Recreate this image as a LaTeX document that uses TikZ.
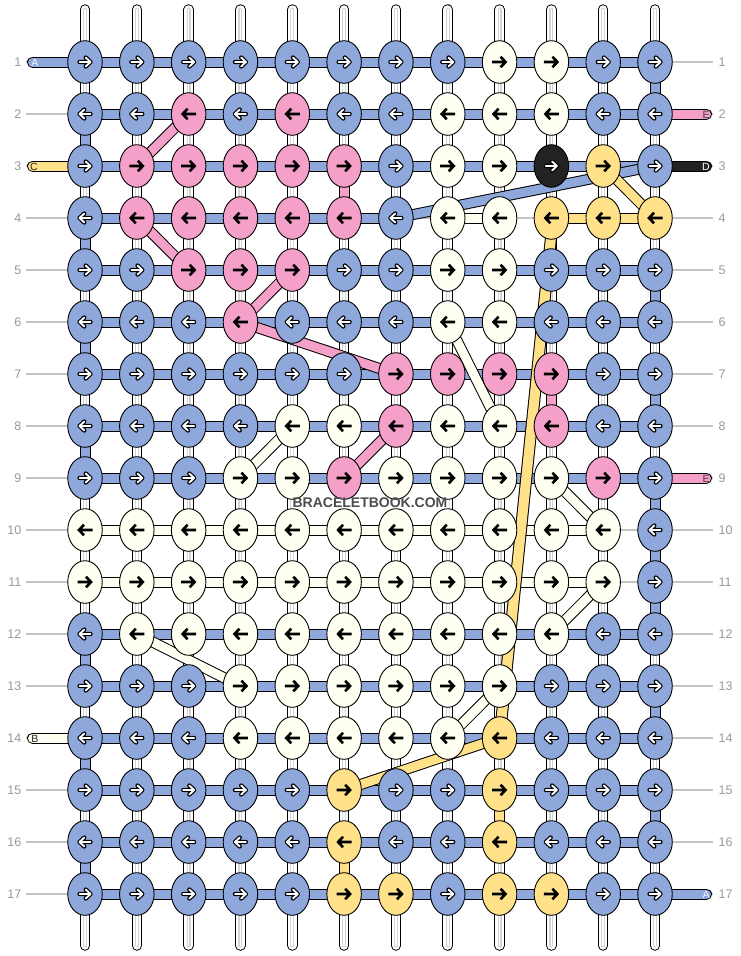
\documentclass[tikz,border=0pt]{standalone}
\usepackage{fontspec}
\setmainfont{Liberation Sans}
\usetikzlibrary{shapes.geometric}
\definecolor{cb}{HTML}{8FA8DC}
\definecolor{cp}{HTML}{F5A0C8}
\definecolor{cw}{HTML}{FFFFF2}
\definecolor{ck}{HTML}{222222}
\definecolor{cy}{HTML}{FFE18A}
\definecolor{cg}{HTML}{D4D4D4}
\definecolor{lab}{HTML}{999999}
\definecolor{labline}{HTML}{C4C4C4}
\definecolor{wmc}{HTML}{4D4D4D}
\tikzset{
  conn/.style={draw=black, line width=1pt, double=#1, double distance=9pt, line cap=butt},
  knot/.style={ellipse, minimum width=34.5pt, minimum height=42.6pt, inner sep=0pt, draw=black, line width=0.9pt},
  rownum/.style={font=\fontsize{12.5}{14}\selectfont, text=lab, inner sep=0pt},
  endlab/.style={font=\fontsize{10.5}{12}\selectfont, inner sep=0pt},
  wmark/.style={font=\bfseries\fontsize{14}{16}\selectfont, inner sep=0pt},
}
\newcommand\warrow{%
  \draw[line width=4.3pt, line cap=round, line join=round] (-5.5,0) -- (5,0) (0.7,-4.5) -- (5.5,0) -- (0.7,4.5);
  \draw[white, line width=1.9pt, line cap=round, line join=round] (-5.5,0) -- (5,0) (0.7,-4.5) -- (5.5,0) -- (0.7,4.5);}
\newcommand\barrow{%
  \draw[line width=2.6pt, line join=miter] (-7.5,0) -- (5.5,0) (1,-5.3) -- (6,0) -- (1,5.3);}
\def\letb{b}\def\letk{k}
\newcommand\drawknot[3]{%
  \node[knot, fill=c#3] (n-#1-#2) at (p-#1-#2) {};
  \pgfmathsetmacro\dirx{ifthenelse(mod(#1,2)==1,1,-1)}%
  \begin{scope}[shift={(n-#1-#2.center)}, xscale=\dirx]
    \edef\tmpk{#3}%
    \ifx\tmpk\letb \warrow \else \ifx\tmpk\letk \warrow \else \barrow \fi\fi
  \end{scope}}
\newcommand\diag[5]{%
  \draw[conn=c#1] (p-#2-#3) -- (p-#4-#5);}
\def\knotdata{%
 1/{b,b,b,b,b,b,b,b,w,w,b,b},
 2/{b,b,p,b,p,b,b,w,w,w,b,b},
 3/{b,p,p,p,p,p,b,w,w,k,y,b},
 4/{b,p,p,p,p,p,b,w,w,y,y,y},
 5/{b,b,p,p,p,b,b,w,w,b,b,b},
 6/{b,b,b,p,b,b,b,w,w,b,b,b},
 7/{b,b,b,b,b,b,p,p,p,p,b,b},
 8/{b,b,b,b,w,w,p,w,w,p,b,b},
 9/{b,b,b,w,w,p,w,w,w,w,p,b},
 10/{w,w,w,w,w,w,w,w,w,w,w,b},
 11/{w,w,w,w,w,w,w,w,w,w,w,b},
 12/{b,w,w,w,w,w,w,w,w,w,b,b},
 13/{b,b,b,w,w,w,w,w,w,b,b,b},
 14/{b,b,b,w,w,w,w,w,y,b,b,b},
 15/{b,b,b,b,b,y,b,b,y,b,b,b},
 16/{b,b,b,b,b,y,b,b,y,b,b,b},
 17/{b,b,b,b,b,y,y,b,y,y,b,b}}
\begin{document}
\begin{tikzpicture}[x=1pt,y=-1pt]
\useasboundingbox[fill=white] (0,0) rectangle (740,956);
% coordinates
\foreach \r in {1,...,17}{
  \foreach \c in {1,...,12}{
    \coordinate (p-\r-\c) at ({85+(\c-1)*51.82},{62+(\r-1)*52});
  }
  \coordinate (l-\r) at (26,{62+(\r-1)*52});
  \coordinate (r-\r) at (713,{62+(\r-1)*52});
}
\foreach \c in {1,...,12}{
  \coordinate (t-\c) at ({85+(\c-1)*51.82},9.5);
  \coordinate (b-\c) at ({85+(\c-1)*51.82},945.5);
}
\coordinate (ys) at (553,218);
% row guide lines
\foreach \r in {1,...,17} \draw[labline, line width=1.1pt] (l-\r) -- (r-\r);
% vertical strands
\foreach \c in {1,...,12}{
  \draw[line width=10.5pt, line cap=round] (t-\c) -- (b-\c);
  \draw[white, line width=8.5pt, line cap=round] (t-\c) -- (b-\c);
  \draw[cg, line width=4pt, line cap=round] (t-\c) -- (b-\c);
  \draw[white, line width=1.6pt, line cap=round] (t-\c) -- (b-\c);
}
% white ground behind the watermark
\fill[white] (291,497.5) rectangle (449,509);
% horizontal connectors
\foreach \r in {1,2,3,5,6,7,8,9,12,13,14,15,16,17}{
  \foreach \c [evaluate=\c as \d using int(\c+1)] in {1,...,11}
    \draw[conn=cb] (p-\r-\c) -- (p-\r-\d);
}
\foreach \c/\d in {1/2,2/3,3/4,4/5,5/6,6/7} \draw[conn=cb] (p-4-\c) -- (p-4-\d);
\draw[conn=cw] (p-4-8) -- (p-4-9);
\draw[conn=cy] (p-4-10) -- (p-4-11);
\draw[conn=cy] (p-4-11) -- (p-4-12);
\foreach \r in {10,11}{
  \foreach \c [evaluate=\c as \d using int(\c+1)] in {1,...,10}
    \draw[conn=cw] (p-\r-\c) -- (p-\r-\d);
}
% turns
\foreach \r/\c in {1/12,2/1,4/1,5/12,6/1,7/12,8/1,9/12,10/12,11/12,12/1,13/12,14/1,15/12,16/1}{
  \pgfmathtruncatemacro\s{\r+1}
  \draw[conn=cb] (p-\r-\c) -- (p-\s-\c);
}
\draw[conn=cp] (p-3-6) -- (p-4-6);
\draw[conn=cp] (p-7-10) -- (p-8-10);
\draw[conn=cy] (p-15-9) -- (p-16-9);
\draw[conn=cy] (p-16-6) -- (p-17-6);
% outer strand ends
\coordinate (la) at (32.5,62);
\coordinate (lc) at (32.5,166);
\coordinate (lb) at (32.5,738);
\coordinate (re) at (706.5,114);
\coordinate (rd) at (706.5,166);
\coordinate (rf) at (706.5,478);
\coordinate (ra) at (706.5,894);
\draw[conn=cb, line cap=round] (la) -- (p-1-1);
\draw[conn=cy, line cap=round] (lc) -- (p-3-1);
\draw[conn=cw, line cap=round] (lb) -- (p-14-1);
\draw[conn=cp, line cap=round] (re) -- (p-2-12);
\draw[conn=ck, line cap=round] (rd) -- (p-3-12);
\draw[conn=cp, line cap=round] (rf) -- (p-9-12);
\draw[conn=cb, line cap=round] (ra) -- (p-17-12);
% diagonal connectors (behind the knots)
\diag{p}{2}{3}{3}{2}
\diag{p}{4}{2}{5}{3}
\diag{p}{5}{5}{6}{4}
\diag{p}{6}{4}{7}{7}
\diag{p}{8}{7}{9}{6}
\diag{b}{3}{12}{4}{7}
\diag{w}{6}{8}{8}{9}
\diag{w}{8}{5}{9}{4}
\diag{w}{9}{10}{10}{11}
\diag{w}{11}{11}{12}{10}
\diag{w}{12}{2}{13}{4}
\diag{w}{13}{9}{14}{8}
\diag{y}{3}{11}{4}{12}
\draw[conn=cy, double distance=10pt] (ys) -- (p-14-9);
\diag{y}{14}{9}{15}{6}
% knots
\foreach \r/\row in \knotdata{
  \foreach \kc [count=\c] in \row { \drawknot{\r}{\c}{\kc} }
}
% row numbers
\foreach \r in {1,...,17}{
  \node[rownum, anchor=east] (ln-\r) at (21.5,{62+(\r-1)*52}) {\r};
  \node[rownum, anchor=west] (rn-\r) at (718.5,{62+(\r-1)*52}) {\r};
}
% strand letters
\node[endlab, text=white!90!cb] (tla) at (35,62.5) {A};
\node[endlab, text=black!85] (tlc) at (34,166.5) {C};
\node[endlab, text=black!85] (tlb) at (35,738.5) {B};
\node[endlab, text=black!75] (tre) at (706,114.5) {E};
\node[endlab, text=white] (trd) at (706,166.5) {D};
\node[endlab, text=black!75] (trf) at (706,478.5) {E};
\node[endlab, text=white!90!cb] (tra) at (706,894.5) {A};
% watermark
\node[wmark, text=wmc] (wm) at (370,503) {BRACELETBOOK.COM};
\end{tikzpicture}
\end{document}
